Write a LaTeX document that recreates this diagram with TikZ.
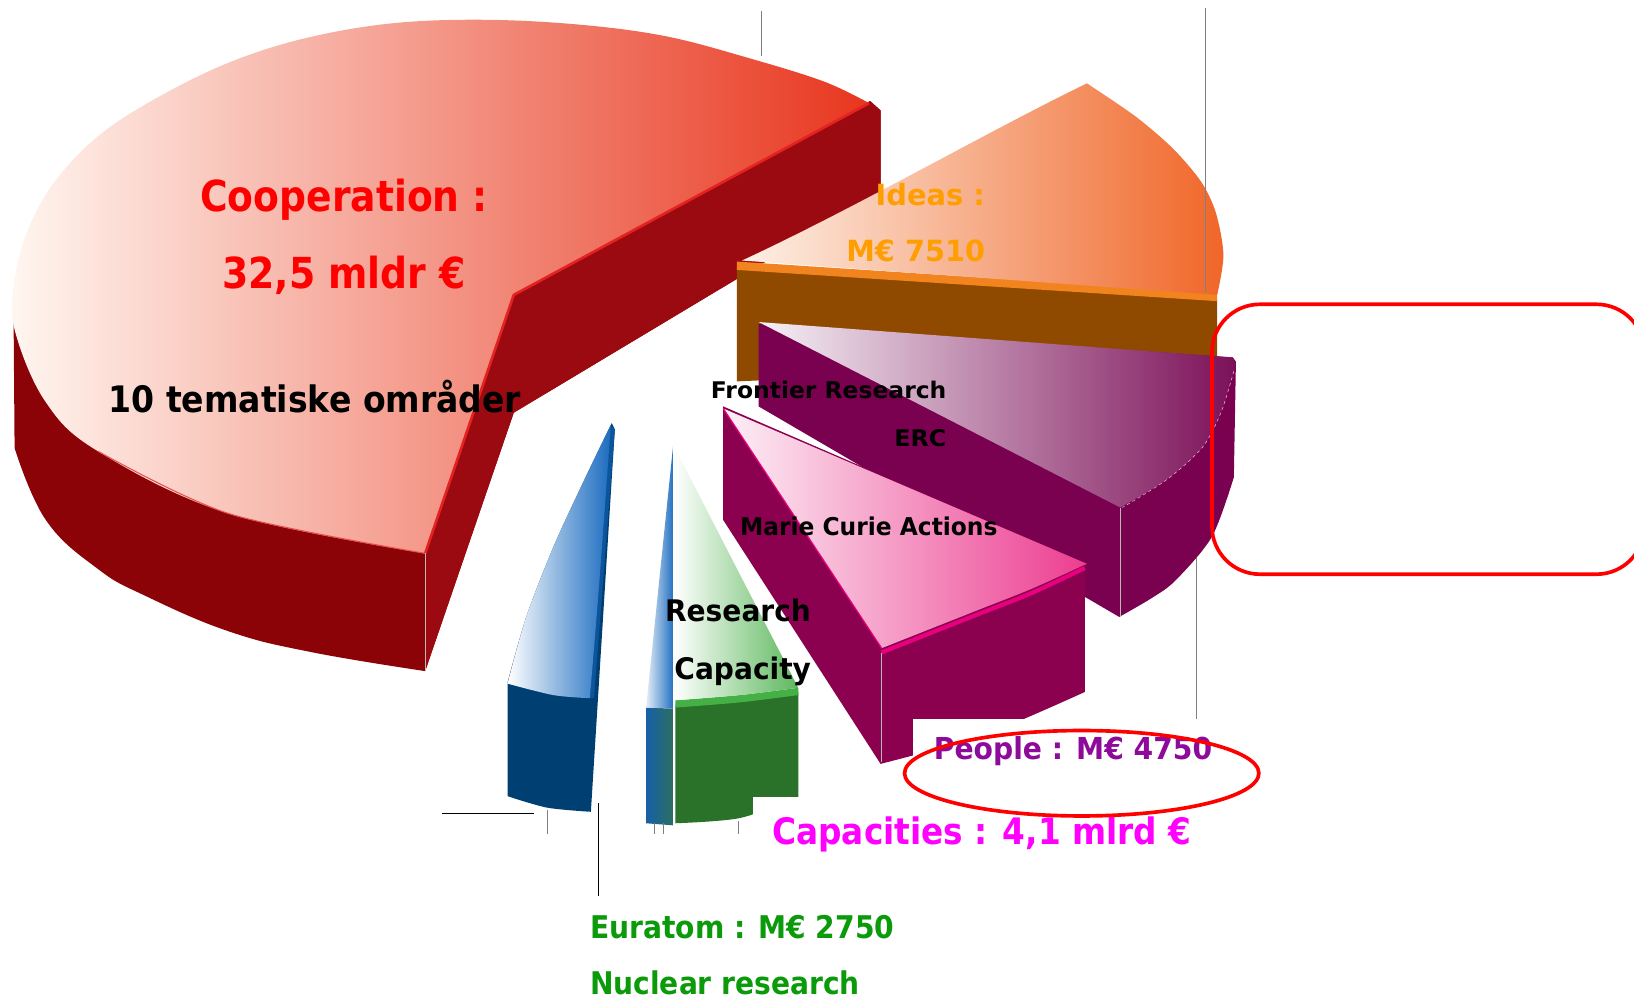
\documentclass[tikz,border=0pt]{standalone}
\usepackage{fontspec}
\usepackage{graphicx}
\newfontfamily\dvs{DejaVu Sans}
\newcommand\lab[3]{\resizebox{#1pt}{\height}{\fontsize{#2pt}{#2pt}\selectfont #3}}
\definecolor{reddark}{HTML}{8C0307}
\definecolor{redcut}{HTML}{9B0A10}
\definecolor{redL}{HTML}{FFF6F0}
\definecolor{redM}{HTML}{F5A47F}
\definecolor{redR}{HTML}{E8361E}
\definecolor{redrim}{HTML}{E52222}
\definecolor{brownface}{HTML}{8F4A00}
\definecolor{orim}{HTML}{F28420}
\definecolor{oL}{HTML}{FDF0E6}
\definecolor{oM}{HTML}{F6A874}
\definecolor{oR}{HTML}{F06628}
\definecolor{ercdark}{HTML}{7A0050}
\definecolor{ercL}{HTML}{F6F1F6}
\definecolor{ercM}{HTML}{BC88A8}
\definecolor{ercR}{HTML}{7C1058}
\definecolor{mcdark}{HTML}{8B004F}
\definecolor{mcL}{HTML}{FDF0F6}
\definecolor{mcM}{HTML}{F5A9CB}
\definecolor{mcR}{HTML}{EC3D90}
\definecolor{mcrim}{HTML}{E8007E}
\definecolor{navy}{HTML}{003F72}
\definecolor{bluecut}{HTML}{0C559C}
\definecolor{blueR}{HTML}{1C6CC0}
\definecolor{blueM}{HTML}{9CBCE4}
\definecolor{gwall}{HTML}{2A7229}
\definecolor{grim}{HTML}{45B045}
\definecolor{gM}{HTML}{CFE9CA}
\definecolor{gR}{HTML}{5DB85D}
\definecolor{orangetext}{HTML}{FF9E00}
\definecolor{peopletext}{HTML}{8E0A9A}
\definecolor{euragreen}{HTML}{0A9A0A}
\definecolor{capmag}{HTML}{FF00FF}
\begin{document}
\begin{tikzpicture}[x=1pt,y=-1pt,
  lbl/.style={inner sep=0pt, anchor=base west, font=\dvs\bfseries},
  axisline/.style={draw=gray, line width=0.8pt},
  edgeline/.style={draw=gray!55, line width=0.6pt},
  mark1/.style={draw=red, line width=3.5pt}]
\useasboundingbox (0,0) rectangle (1568,959);
\fill[white] (0,0) rectangle (1568,959);

% background lines
\draw[axisline] (731,11) -- (731,54);

% ---------------- Cooperation slice
\fill[reddark] (835,97) -- (845,106) -- (845,185) -- (493,396) -- (408,644)
  -- plot[smooth,tension=0.7] coordinates {(408,644) (300,626) (220,606) (140,572) (94,546) (44,499) (14,430)}
  -- (13,300) -- (493,283) -- cycle;
\fill[redcut] (835,97) -- (845,106) -- (845,185) -- (493,396) -- (408,644) -- (408,531) -- (493,283) -- cycle;
\shade[left color=redL, middle color=redM, right color=redR]
  plot[smooth,tension=0.6] coordinates {(834,99) (790,78) (716,55) (640,35) (560,24) (468,19) (380,22) (300,35) (230,56) (165,86) (100,126) (55,171) (27,220) (13,275) (15,320) (44,386) (94,433) (220,493) (408,531)}
  -- (493,283) -- cycle;
\draw[redrim, line width=2.5pt, line join=round] (408,531) -- (493,283) -- (834,99);
\draw[redrim!80, line width=1pt] plot[smooth] coordinates {(94,433) (220,493) (408,531)};
\draw[edgeline] (408,531) -- (408,644);

% ---------------- Ideas slice
\fill[brownface] (707,257) -- (1168,287) -- (1168,345) -- (707,366) -- cycle;
\fill[orim] (707,251) -- (1168,281) -- (1168,289) -- (707,259) -- cycle;
\shade[left color=oL, middle color=oM, right color=oR]
  (712,250) .. controls (820,200) and (950,125) .. (1043,80)
  -- plot[smooth] coordinates {(1043,80) (1090,112) (1126,143) (1153,175) (1167,205) (1174,245) (1168,283)} -- cycle;
\draw[axisline] (1157,8) -- (1157,280);

% ---------------- ERC slice
\fill[ercdark] (728,311) -- (728,390) -- (1074,592)
  -- plot[smooth] coordinates {(1074,592) (1105,574) (1128,557) (1163,515) (1184,458)}
  -- (1186,347) -- (1183,343) -- cycle;
\shade[left color=ercL, middle color=ercM, right color=ercR]
  (728,309) -- (1183,343) -- (1186,350)
  -- plot[smooth] coordinates {(1186,350) (1172,395) (1154,429) (1120,460) (1075,487)} -- cycle;
\draw[white!75!ercR, dashed, line width=0.5pt] plot[smooth] coordinates {(1184,356) (1172,395) (1154,429) (1120,460) (1077,487)};
\draw[edgeline] (1075,487) -- (1075,592);
\draw[axisline] (1148,535) -- (1148,690);

% ---------------- Euratom slice (blue)
\fill[navy] (587,406) -- (590,412) -- (567,779)
  -- plot[smooth] coordinates {(567,779) (525,775) (487,764)}
  -- (487,655)
  -- plot[smooth] coordinates {(487,655) (505,592) (531,525) (560,462) (587,406)} -- cycle;
\fill[bluecut] (586,408) -- (590,412) -- (570,670) -- (566,670) -- cycle;
\shade[left color=white, middle color=blueM, right color=blueR]
  (586,408) -- plot[smooth] coordinates {(586,408) (560,462) (531,525) (505,592) (487,656)}
  -- plot[smooth] coordinates {(487,656) (531,667) (566,670)}
  -- plot[smooth] coordinates {(566,670) (575,560) (586,410)} -- cycle;

% ---------------- Research capacity sliver (blue) and green slice
\shade[left color={rgb,255:red,22;green,96;blue,168}, right color={rgb,255:red,44;green,110;blue,98}]
  (620,679) -- (646,680) -- (646,792) -- (620,790) -- cycle;
\shade[left color={rgb,255:red,228;green,238;blue,248}, right color=blueR]
  (646,427) -- (647,680) -- (620,679) -- cycle;
\fill[gwall] (648,677) -- (766,664) -- (766,765)
  -- plot[smooth] coordinates {(766,765) (710,785) (648,790)} -- cycle;
\fill[grim] (648,672) -- plot[smooth] coordinates {(648,672) (710,667) (766,660)}
  -- (766,667) -- plot[smooth] coordinates {(766,667) (710,674) (648,679)} -- cycle;
\shade[left color=white, middle color=gM, right color=gR]
  (646,427) -- (766,660) -- plot[smooth] coordinates {(766,660) (710,667) (648,672)} -- cycle;
\draw[white, line width=1.5pt] (647,428) -- (647,792);

% ---------------- Marie Curie slice
\fill[mcdark] (694,390) -- (694,499) -- (845,733)
  -- plot[smooth] coordinates {(845,733) (945,705) (1041,664)}
  -- (1041,545) -- (1043,541) -- cycle;
\shade[left color=mcL, middle color=mcM, right color=mcR]
  (694,392) -- (1043,541) -- plot[smooth] coordinates {(1043,541) (990,565) (937,586) (846,622)} -- cycle;
\draw[mcrim, line width=1.2pt] (694,392) -- (846,622);
\draw[mcrim, line width=4pt] plot[smooth] coordinates {(1041,545) (990,569) (937,590) (846,626)};
\draw[edgeline] (846,627) -- (846,731);

% ---------------- label backgrounds
\fill[white] (876,690) rectangle (1148,765);
\fill[white] (723,765) rectangle (1150,835);

% ---------------- small ticks and lines
\draw[black, line width=0.8pt] (424,781) -- (512,781);
\draw[axisline] (525,777) -- (525,800);
\draw[black, line width=0.8pt] (574,771) -- (574,860);
\draw[axisline] (628,790) -- (628,800);
\draw[axisline] (637,790) -- (637,800);
\draw[axisline] (709,788) -- (709,800);

% ---------------- texts
\node[lbl, text=red] (coop) at (192,203) {\lab{276}{41}{Cooperation :}};
\node[lbl, text=red] (coopv) at (213,277) {\lab{234}{41}{32,5 mldr €}};
\node[lbl, text=black] (tema) at (104,396) {\lab{396}{35}{10 tematiske områder}};
\node[lbl, text=orangetext] (ideas) at (840,197) {\lab{105}{28}{Ideas :}};
\node[lbl, text=orangetext] (ideasv) at (812,251) {\lab{133}{28}{M€ 7510}};
\node[lbl, text=black] (front) at (682,382) {\lab{226}{22}{Frontier Research}};
\node[lbl, text=black] (erc) at (858,428) {\lab{50}{22}{ERC}};
\node[lbl, text=black] (mca) at (710,514) {\lab{247}{23.5}{Marie Curie Actions}};
\node[lbl, text=black] (res) at (638,596) {\lab{140}{28.5}{Research}};
\node[lbl, text=black] (capy) at (647,652) {\lab{131}{28.5}{Capacity}};
\node[lbl, text=peopletext] (people) at (896,729) {\lab{267}{29}{People : M€ 4750}};
\node[lbl, text=capmag] (capac) at (741,810) {\lab{402}{35}{Capacities : 4,1 mlrd €}};
\node[lbl, text=euragreen] (eura) at (566,901) {\lab{292}{30}{Euratom : M€ 2750}};
\node[lbl, text=euragreen] (nucl) at (566,954) {\lab{259}{30}{Nuclear research}};

% ---------------- red highlight marks
\draw[mark1, rounded corners=46pt] (1163,292) rectangle (1578,551);
\draw[mark1] (1038,742) ellipse [x radius=170, y radius=41];
\end{tikzpicture}
\end{document}
